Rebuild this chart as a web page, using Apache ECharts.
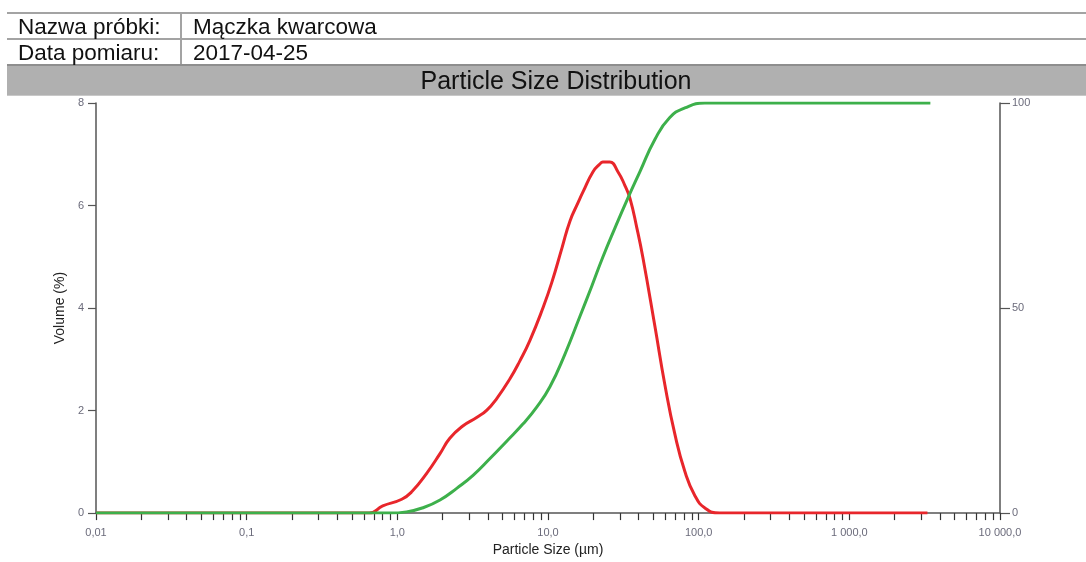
<!DOCTYPE html>
<html>
<head>
<meta charset="utf-8">
<script src="https://cdn.jsdelivr.net/npm/echarts@6/dist/echarts.min.js"></script>
<style>
  html, body { margin: 0; padding: 0; background: #fff; overflow: hidden; }
  #chart { width: 1086px; height: 562px; }
</style>
</head>
<body>
<div id="chart"></div>
<script>
// Sample header
const headerLabels = ['Nazwa próbki:', 'Data pomiaru:'];
const headerValues = ['Mączka kwarcowa', '2017-04-25'];
const chartTitle = 'Particle Size Distribution';

// Volume density (%) against particle size (µm)
const volumeSize = [0.01, 0.65, 0.80, 1.07, 1.25, 1.57, 1.92, 2.23, 2.72, 3.38, 3.93, 4.58, 5.59, 6.51, 7.59,
  9.25, 10.6, 12.4, 14.0, 15.8, 17.1, 19.9, 22.1, 23.1, 25.7, 29.1, 32.4, 35.0, 38.9, 42.6, 51.2, 59.7, 69.5,
  81.0, 94.4, 110, 138, 3300];
const volumePct = [0, 0, 0.14, 0.27, 0.42, 0.78, 1.16, 1.46, 1.70, 1.87, 2.01, 2.24, 2.62, 2.97, 3.37,
  4.0, 4.5, 5.18, 5.70, 6.05, 6.27, 6.66, 6.81, 6.85, 6.85, 6.66, 6.39, 6.14, 5.56, 4.99, 3.65, 2.5, 1.54,
  0.81, 0.34, 0.10, 0, 0];

// Cumulative volume (%) against particle size (µm)
const cumulativeSize = [0.01, 0.89, 1.15, 1.48, 1.92, 2.49, 3.18, 4.12, 5.34, 6.81, 8.44, 10.3, 12.9, 16.3, 19.6,
  23.1, 27.8, 33.9, 40.7, 51.2, 64.1, 81.0, 110, 3450];
const cumulativePct = [0, 0, 0.3, 1.3, 3.2, 6.1, 9.2, 13.3, 17.6, 21.7, 25.9, 30.8, 38.6, 48, 55.5,
  62.4, 69.5, 76.8, 83.2, 91.1, 96.4, 98.8, 100, 100];

// Size axis decades (log10 of µm) and their printed labels
const decadeExps = [-2, -1, 0, 1, 2, 3, 4];
const decadeLabels = ['0,01', '0,1', '1,0', '10,0', '100,0', '1 000,0', '10 000,0'];

const leftTicks = [0, 2, 4, 6, 8];
const rightTicks = [0, 50, 100];

// minor ticks at 1..9 × each decade, in log10 space
const tickExps = [];
for (let d = -2; d < 4; d++) {
  for (let k = 1; k <= 9; k++) tickExps.push(Math.log10(k * Math.pow(10, d)));
}
tickExps.push(4);

const toLog = (sizes, vals) => sizes.map((s, i) => [Math.log10(s), vals[i]]);

const FONT = "'Liberation Sans', Arial, sans-serif";
const lineCol = '#a3a3a3';

const chart = echarts.init(document.getElementById('chart'), null, { renderer: 'canvas' });

chart.setOption({
  animation: false,
  backgroundColor: '#fff',
  graphic: [
    // table rules
    { type: 'rect', shape: { x: 7, y: 12, width: 1079, height: 2 }, style: { fill: lineCol } },
    { type: 'rect', shape: { x: 7, y: 38, width: 1079, height: 2 }, style: { fill: lineCol } },
    { type: 'rect', shape: { x: 180, y: 13, width: 2, height: 52 }, style: { fill: lineCol } },
    // title band
    { type: 'rect', shape: { x: 7, y: 64, width: 1079, height: 32 }, style: { fill: '#b0b0b0' } },
    { type: 'rect', shape: { x: 7, y: 64, width: 1079, height: 2 }, style: { fill: '#8e8e8e' } },
    { type: 'rect', shape: { x: 7, y: 95, width: 1079, height: 1 }, style: { fill: '#c8c8c8' } },
    { type: 'text', style: { x: 18, y: 28, text: headerLabels[0], font: '22.5px ' + FONT, fill: '#111', verticalAlign: 'middle' } },
    { type: 'text', style: { x: 193, y: 28, text: headerValues[0], font: '22.5px ' + FONT, fill: '#111', verticalAlign: 'middle' } },
    { type: 'text', style: { x: 18, y: 54, text: headerLabels[1], font: '22.5px ' + FONT, fill: '#111', verticalAlign: 'middle' } },
    { type: 'text', style: { x: 193, y: 54, text: headerValues[1], font: '22.5px ' + FONT, fill: '#111', verticalAlign: 'middle' } },
    { type: 'text', style: { x: 556, y: 82, text: chartTitle, font: '25px ' + FONT, fill: '#111', align: 'center', verticalAlign: 'middle' } }
  ],
  grid: { left: 96, width: 904, top: 103, height: 417.5, containLabel: false },
  xAxis: {
    type: 'value',
    min: -2, max: 4, interval: 1,
    name: 'Particle Size (µm)',
    nameLocation: 'middle',
    nameGap: 26,
    nameTextStyle: { fontFamily: FONT, fontSize: 14, color: '#222' },
    axisLine: { onZero: false, lineStyle: { color: '#555', width: 1.5 } },
    axisTick: { show: true, length: 7, lineStyle: { color: '#333', width: 1.2 }, customValues: tickExps },
    axisLabel: {
      fontFamily: FONT, fontSize: 11, color: '#6b6b7b', margin: 14,
      customValues: decadeExps,
      formatter: v => decadeLabels[decadeExps.indexOf(Math.round(v))] ?? ''
    },
    splitLine: { show: false }
  },
  yAxis: [
    {
      type: 'value', min: 0, max: 8, interval: 2, position: 'left',
      name: 'Volume (%)', nameLocation: 'middle', nameGap: 26,
      nameTextStyle: { fontFamily: FONT, fontSize: 14, color: '#222' },
      axisLine: { show: true, onZero: false, lineStyle: { color: '#555', width: 1.5 } },
      axisTick: { show: true, length: 8, lineStyle: { color: '#555', width: 1.2 }, customValues: leftTicks },
      axisLabel: { fontFamily: FONT, fontSize: 11, color: '#6b6b7b', margin: 12, customValues: leftTicks },
      splitLine: { show: false }
    },
    {
      type: 'value', min: 0, max: 100, interval: 50, position: 'right',
      axisLine: { show: true, onZero: false, lineStyle: { color: '#555', width: 1.5 } },
      axisTick: { show: true, length: 10, lineStyle: { color: '#555', width: 1.2 }, customValues: rightTicks },
      axisLabel: { fontFamily: FONT, fontSize: 11, color: '#6b6b7b', margin: 12, customValues: rightTicks },
      splitLine: { show: false }
    }
  ],
  series: [
    {
      name: 'Volume',
      type: 'line',
      yAxisIndex: 0,
      data: toLog(volumeSize, volumePct),
      smooth: 0.5,
      showSymbol: false,
      lineStyle: { color: '#e8262b', width: 3 },
      z: 2
    },
    {
      name: 'Cumulative',
      type: 'line',
      yAxisIndex: 1,
      data: toLog(cumulativeSize, cumulativePct),
      smooth: 0.5,
      showSymbol: false,
      lineStyle: { color: '#3db04b', width: 3 },
      z: 3
    }
  ]
});
</script>
</body>
</html>
